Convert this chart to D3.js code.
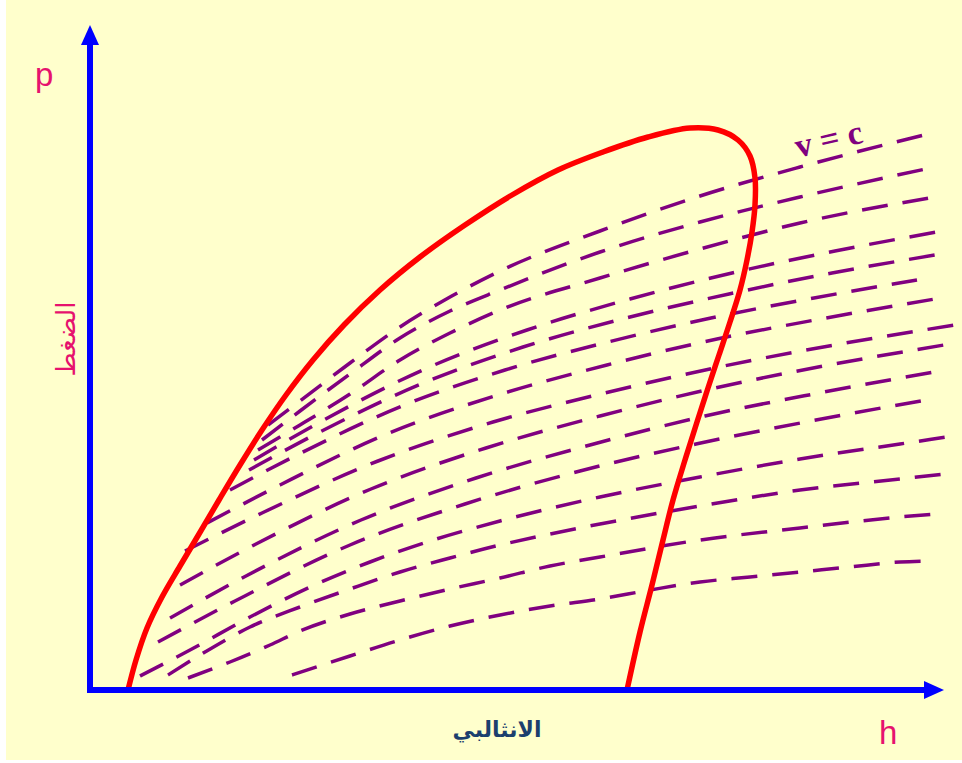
<!DOCTYPE html>
<html>
<head>
<meta charset="utf-8">
<script src="https://cdn.jsdelivr.net/npm/d3@7"></script>
<style>
  html, body { margin: 0; padding: 0; background: #ffffff; }
  svg { display: block; }
</style>
</head>
<body>
<svg id="chart" width="962" height="763"></svg>
<script>
// Saturation dome of the p-h diagram, [h, p] in plot units
const dome = [
  [38, 0], [46, 30], [57, 62], [72, 93], [90, 124], [109, 156], [129, 190],
  [150, 225], [172, 260], [196, 295], [223, 330], [254, 365], [290, 400],
  [330, 433], [375, 465], [422, 495], [468, 520], [513, 538], [558, 553],
  [600, 562], [628, 560], [648, 550], [660, 534], [665, 512],
  [665, 485], [662, 458], [657, 430], [650, 400], [640, 368], [629, 335],
  [618, 302], [607, 268], [595, 230], [583, 190], [573, 150], [562, 105],
  [550, 58], [537, 0]
];

// Constant-volume lines (v = c), [h, p] in plot units, top to bottom
const v1 = [[178,265],[210,289],[260,327],[310,363],[360,393],[410,419],[510,459],[610,494],[710,523],[842,557]];
const v2 = [[172,250],[210,279],[260,316],[310,352],[360,379],[410,400],[510,438],[610,468],[710,493],[845,523]];
const v3 = [[168,240],[210,265],[260,296],[310,330],[360,357],[410,380],[510,412],[610,441],[710,467],[845,493]];
const v4 = [[164,230],[232,269],[335,321],[437,360],[540,391],[642,417],[745,439],[847,458]];
const v5 = [[159,220],[228,257],[331,306],[433,343],[536,372],[639,396],[742,417],[845,435]];
const v6 = [[140,200],[209,236],[312,284],[415,320],[518,348],[621,372],[724,392],[827,410]];
const v7 = [[117,167],[190,205],[299,257],[408,295],[517,325],[627,351],[736,372],[845,391]];
const v8 = [[95,139],[172,177],[288,229],[403,268],[519,298],[634,324],[750,346],[865,365]];
const v9 = [[90,105],[166,146],[281,201],[396,242],[510,274],[625,302],[739,325],[854,345]];
const v10 = [[80,72],[156,114],[271,170],[386,212],[500,245],[615,274],[729,297],[844,318]];
const v11 = [[68,48],[145,89],[260,145],[375,186],[490,219],[606,246],[721,269],[836,290]];
const v12 = [[50,14],[100,40],[160,73],[220,103],[280,128],[340,149],[410,169],[510,193],[610,213],[710,231],[810,246],[857,253]];
const v13 = [[78,15],[115,38],[160,63],[210,83],[260,101],[310,118],[360,132],[410,145],[460,156],[510,166],[610,184],[710,200],[810,211],[854,216]];
const v14 = [[98,12],[140,28],[180,45],[210,59],[260,76],[310,89],[360,101],[410,112],[460,124],[510,133],[610,150],[710,162],[810,173],[847,176]];
const v15 = [[202,15],[260,34],[310,50],[360,64],[410,75],[460,84],[510,91],[560,100],[610,108],[660,113],[710,118],[760,123],[810,128],[836,129]];
const isochores = [v1, v2, v3, v4, v5, v6, v7, v8, v9, v10, v11, v12, v13, v14, v15];

// Axis and curve labels
const labelP = "p";
const labelH = "h";
const labelPressure = "الضغط";
const labelEnthalpy = "الانثالبي";
const labelIsochore = "v = c";

const svg = d3.select("#chart");

const x = d3.scaleLinear().domain([0, 840]).range([90, 930]);
const y = d3.scaleLinear().domain([0, 650]).range([690, 40]);

// background panel
svg.append("rect")
  .attr("x", 6).attr("y", 0)
  .attr("width", 956).attr("height", 760)
  .attr("fill", "#ffffcc");

// isochores
const isoLine = d3.line()
  .x(d => x(d[0])).y(d => y(d[1]))
  .curve(d3.curveMonotoneX);

svg.append("g").selectAll("path")
  .data(isochores)
  .join("path")
  .attr("d", isoLine)
  .attr("fill", "none")
  .attr("stroke", "#800080")
  .attr("stroke-width", 3.5)
  .attr("stroke-dasharray", "26 15");

// saturation dome
const domeLine = d3.line()
  .x(d => x(d[0])).y(d => y(d[1]))
  .curve(d3.curveCatmullRom.alpha(0.5));

svg.append("path")
  .attr("d", domeLine(dome))
  .attr("fill", "none")
  .attr("stroke", "#ff0000")
  .attr("stroke-width", 5.5)
  .attr("stroke-linejoin", "round");

// axes with arrowheads
const axisColor = "#0000ff";
const ox = x(0), oy = y(0);
const xTip = x(854), yTip = y(665);

svg.append("line")
  .attr("x1", ox - 3).attr("y1", oy)
  .attr("x2", xTip - 18).attr("y2", oy)
  .attr("stroke", axisColor).attr("stroke-width", 6);
svg.append("path")
  .attr("d", `M${xTip},${oy} L${xTip - 20},${oy - 9} L${xTip - 20},${oy + 9} Z`)
  .attr("fill", axisColor);

svg.append("line")
  .attr("x1", ox).attr("y1", oy + 3)
  .attr("x2", ox).attr("y2", yTip + 18)
  .attr("stroke", axisColor).attr("stroke-width", 6);
svg.append("path")
  .attr("d", `M${ox},${yTip} L${ox - 9},${yTip + 20} L${ox + 9},${yTip + 20} Z`)
  .attr("fill", axisColor);

// labels
const pink = "#e6126e";
svg.append("text")
  .attr("x", 35).attr("y", 86)
  .attr("font-family", "Liberation Sans, Arial, sans-serif")
  .attr("font-size", 33)
  .attr("fill", pink)
  .text(labelP);

svg.append("text")
  .attr("x", 879).attr("y", 744)
  .attr("font-family", "Liberation Sans, Arial, sans-serif")
  .attr("font-size", 33)
  .attr("fill", pink)
  .text(labelH);

svg.append("text")
  .attr("transform", "translate(75,339) rotate(-90)")
  .attr("text-anchor", "middle")
  .attr("font-family", "DejaVu Sans, sans-serif")
  .attr("font-size", 26)
  .attr("fill", pink)
  .text(labelPressure);

svg.append("text")
  .attr("x", 497).attr("y", 737)
  .attr("text-anchor", "middle")
  .attr("font-family", "DejaVu Sans, sans-serif")
  .attr("font-weight", "bold")
  .attr("font-size", 22)
  .attr("fill", "#1c3f6e")
  .text(labelEnthalpy);

svg.append("text")
  .attr("transform", "translate(831,150) rotate(-13)")
  .attr("text-anchor", "middle")
  .attr("font-family", "Liberation Serif, Times New Roman, serif")
  .attr("font-weight", "bold")
  .attr("font-size", 34)
  .attr("fill", "#800080")
  .text(labelIsochore);
</script>
</body>
</html>
